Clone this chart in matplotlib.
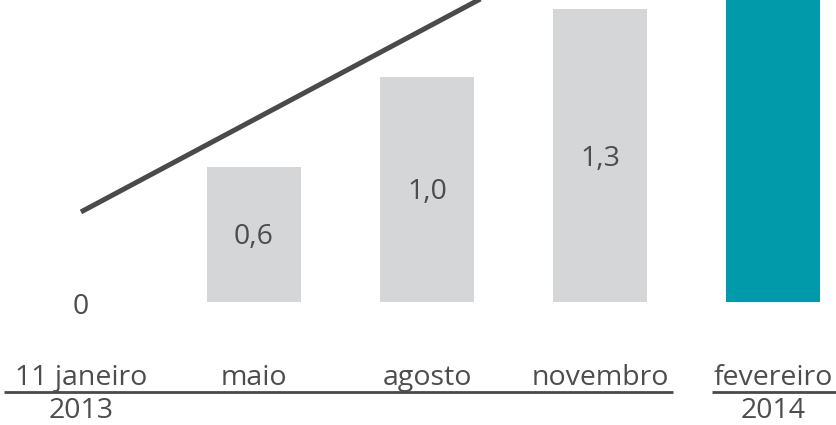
import matplotlib
matplotlib.use("Agg")
import matplotlib.pyplot as plt

plt.rcParams['font.family'] = ['Open Sans', 'DejaVu Sans']

# Data
categories = ["11 janeiro", "maio", "agosto", "novembro", "fevereiro"]
years = ["2013", "2014"]
bar_values = [0.0, 0.6, 1.0, 1.3, 2.8]
bar_labels = ["0", "0,6", "1,0", "1,3", None]
trend_x = [0, 3]
trend_y = [0.40, 1.63]

GREY = "#d5d6d8"
TEAL = "#009aab"
TEXT = "#4d4d4d"
LINE = "#4a4a4a"

fig = plt.figure(figsize=(8.36, 4.25), dpi=100)
ax = fig.add_axes([0, 0, 1, 1])
ax.set_xlim(-0.468, 4.364)
ax.set_ylim(-0.547, 1.342)
ax.axis("off")

x = list(range(len(categories)))
colors = [GREY, GREY, GREY, GREY, TEAL]
ax.bar(x, bar_values, width=0.545, color=colors, zorder=1)

ax.plot(trend_x, trend_y, color=LINE, lw=3.6, solid_capstyle="butt", zorder=3)

fs = 20.5
for xi, v, lab in zip(x, bar_values, bar_labels):
    if lab is None:
        continue
    if v == 0:
        ax.annotate(lab, (xi, 0), xytext=(0, -5), textcoords="offset pixels",
                    ha="center", va="center", fontsize=fs, color=TEXT)
    else:
        ax.annotate(lab, (xi, v / 2), xytext=(0, -3), textcoords="offset pixels",
                    ha="center", va="center", fontsize=fs, color=TEXT)

for xi, c in zip(x, categories):
    ax.text(xi, -0.369, c, ha="center", va="baseline", fontsize=fs, color=TEXT)

# year separators
ax.plot([-0.445, 3.42], [-0.40, -0.40], color=LINE, lw=2, solid_capstyle="butt")
ax.plot([3.647, 4.364], [-0.40, -0.40], color=LINE, lw=2, solid_capstyle="butt")
ax.text(0, -0.514, years[0], ha="center", va="baseline", fontsize=fs, color=TEXT)
ax.text(4, -0.514, years[1], ha="center", va="baseline", fontsize=fs, color=TEXT)

fig.savefig("out.png", dpi=100)
